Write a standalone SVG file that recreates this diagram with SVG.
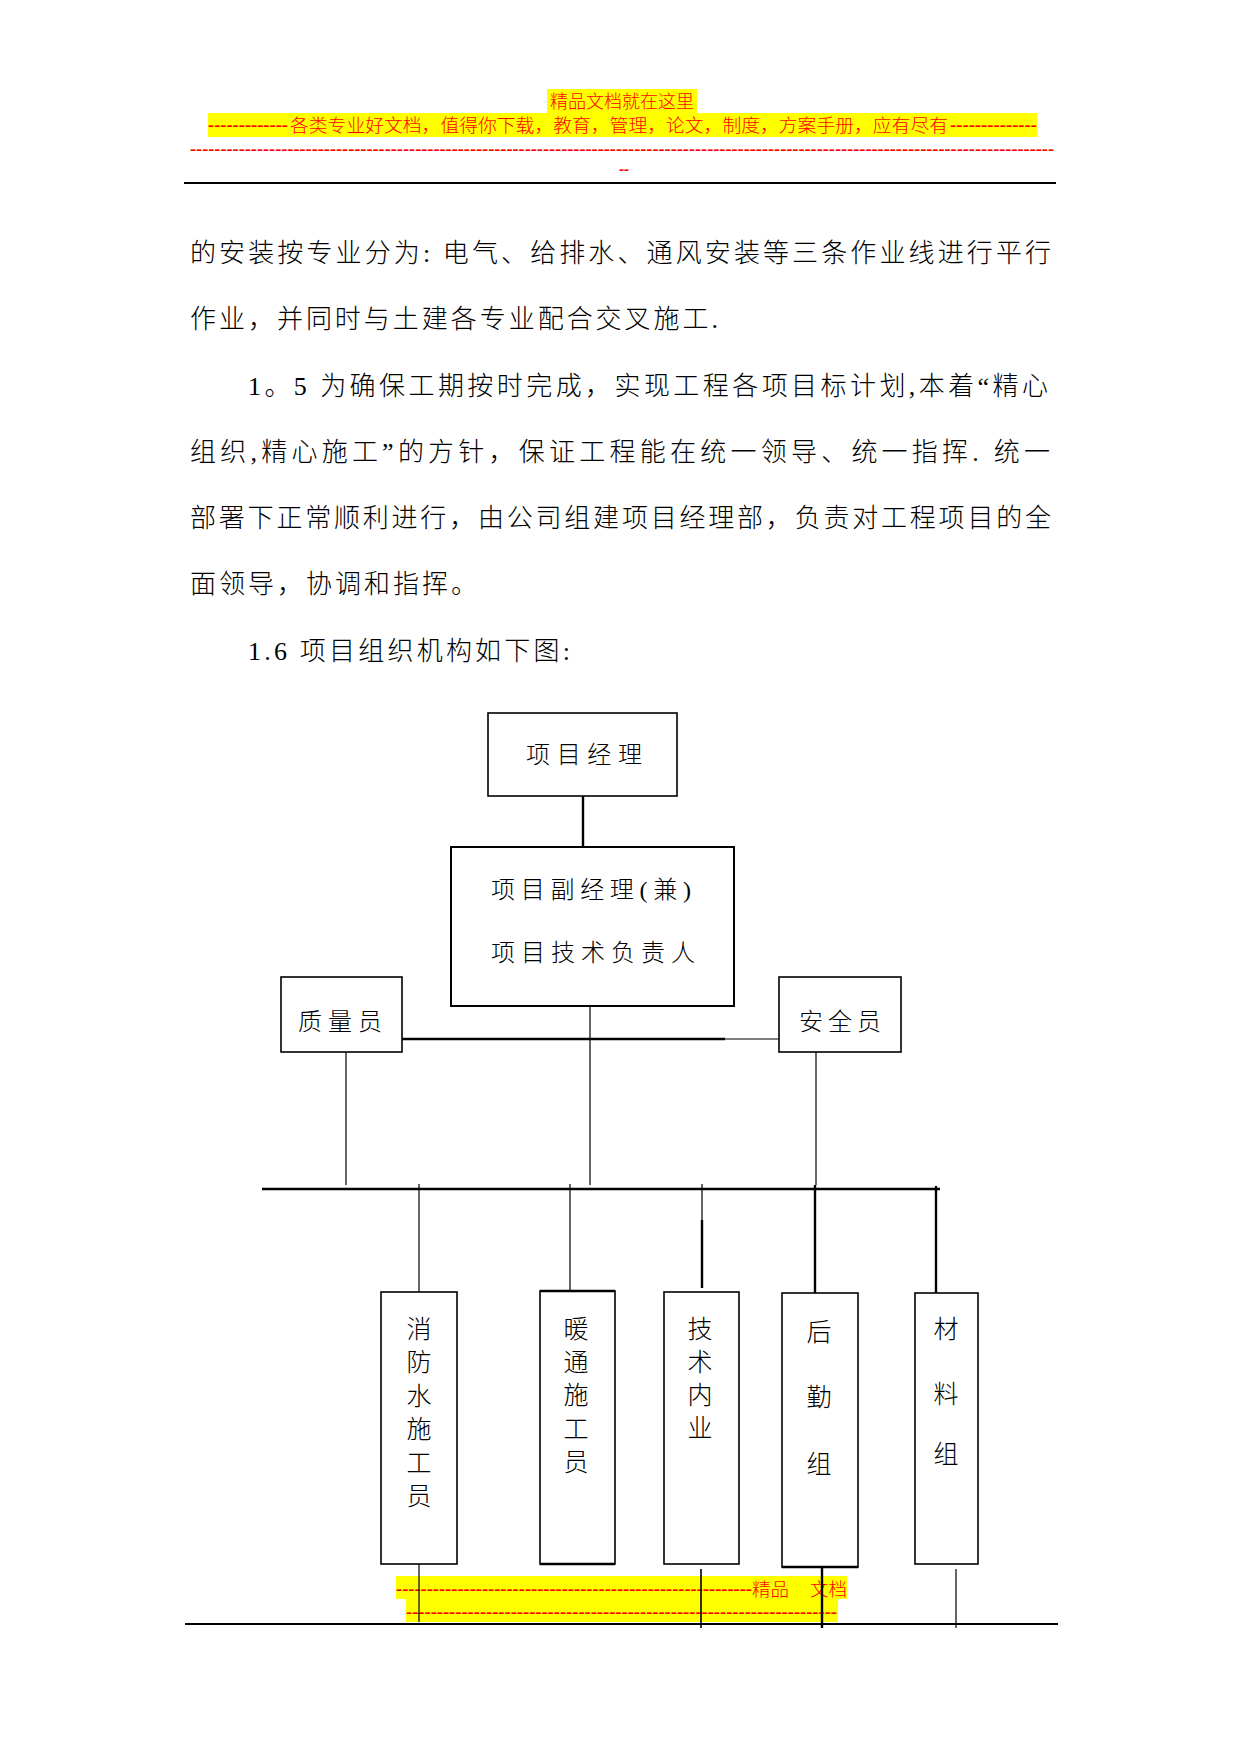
<svg xmlns="http://www.w3.org/2000/svg" width="1241" height="1754" viewBox="0 0 1241 1754">
<style>
.hl{fill:#FFFF00}
.red{fill:#FF0000;font-family:"Liberation Serif","Noto Sans CJK SC",serif;font-size:18px;font-weight:300}
.dash{fill:#FF0000;font-family:"Liberation Serif",serif;font-size:18px;font-weight:bold}
.body{fill:#000;font-family:"Liberation Serif","Noto Sans CJK SC",serif;font-size:26px;font-weight:300}
.lbl{fill:#000;font-family:"Liberation Serif","Noto Sans CJK SC",serif;font-size:24px;font-weight:300}
.vl{fill:#000;font-family:"Noto Sans CJK SC",sans-serif;font-size:25px;font-weight:300;text-anchor:middle}
.box{fill:#fff;stroke:#000;stroke-width:1.6}
.thin{stroke:#000;stroke-width:1.2;fill:none}
.thick{stroke:#000;stroke-width:2.4;fill:none}
.rule{stroke:#000;stroke-width:2;fill:none}
</style>
<rect width="1241" height="1754" fill="#fff"/>

<!-- header -->
<g id="header">
<rect class="hl" x="547" y="89" width="150" height="24"/>
<text class="red" x="550" y="108" textLength="144" lengthAdjust="spacingAndGlyphs">精品文档就在这里</text>
<rect class="hl" x="208" y="113" width="829" height="24"/>
<text class="dash" x="208" y="131" textLength="80" lengthAdjust="spacingAndGlyphs">-------------</text>
<text class="red" x="290" y="132" textLength="658" lengthAdjust="spacingAndGlyphs">各类专业好文档，值得你下载，教育，管理，论文，制度，方案手册，应有尽有</text>
<text class="dash" x="950" y="131" textLength="87" lengthAdjust="spacingAndGlyphs">--------------</text>
<text class="dash" x="190" y="155" textLength="864" lengthAdjust="spacingAndGlyphs">----------------------------------------------------------------------------------------------------------------------------------------------</text>
<text class="dash" x="619" y="175" textLength="10" lengthAdjust="spacingAndGlyphs">--</text>
<line class="rule" x1="184" y1="183" x2="1056" y2="183"/>
</g>

<!-- body text -->
<g id="body">
<text class="body" x="190" y="262" textLength="861" lengthAdjust="spacing">的安装按专业分为: 电气、给排水、通风安装等三条作业线进行平行</text>
<text class="body" x="190" y="328" textLength="528" lengthAdjust="spacing">作业，并同时与土建各专业配合交叉施工.</text>
<text class="body" x="248" y="395" textLength="800" lengthAdjust="spacing">1。5 为确保工期按时完成，实现工程各项目标计划,本着“精心</text>
<text class="body" x="190" y="461" textLength="860" lengthAdjust="spacing">组织,精心施工”的方针，保证工程能在统一领导、统一指挥. 统一</text>
<text class="body" x="190" y="527" textLength="861" lengthAdjust="spacing">部署下正常顺利进行，由公司组建项目经理部，负责对工程项目的全</text>
<text class="body" x="190" y="593" textLength="287" lengthAdjust="spacing">面领导，协调和指挥。</text>
<text class="body" x="248" y="660" textLength="322" lengthAdjust="spacing">1.6 项目组织机构如下图:</text>
</g>

<!-- footer highlight -->
<g id="footer">
<rect class="hl" x="396" y="1576" width="451" height="23"/>
<rect class="hl" x="406" y="1599" width="432" height="23"/>
<text class="dash" x="396" y="1595" textLength="356" lengthAdjust="spacingAndGlyphs">----------------------------------------------------------</text>
<text class="red" x="752" y="1596" textLength="37" lengthAdjust="spacingAndGlyphs">精品</text>
<text class="red" x="810" y="1596" textLength="37" lengthAdjust="spacingAndGlyphs">文档</text>
<text class="dash" x="406" y="1618" textLength="431" lengthAdjust="spacingAndGlyphs">----------------------------------------------------------------------</text>
<line class="rule" x1="185" y1="1624" x2="1058" y2="1624"/>
</g>

<!-- connectors -->
<g id="connectors">
<line class="thick" x1="583" y1="796" x2="583" y2="847"/>
<line class="thin" x1="590" y1="1006" x2="590" y2="1185"/>
<line class="thick" x1="402" y1="1039" x2="725" y2="1039"/>
<line class="thin" x1="725" y1="1039" x2="779" y2="1039"/>
<line class="thin" x1="346" y1="1052" x2="346" y2="1185"/>
<line class="thin" x1="816" y1="1052" x2="816" y2="1185"/>
<line class="thick" x1="262" y1="1189" x2="940" y2="1189"/>
<line class="thin" x1="419" y1="1184" x2="419" y2="1293"/>
<line class="thin" x1="570" y1="1184" x2="570" y2="1292"/>
<line class="thin" x1="702" y1="1184" x2="702" y2="1220"/>
<line class="thick" x1="702" y1="1220" x2="702" y2="1288"/>
<line class="thick" x1="815" y1="1185" x2="815" y2="1294"/>
<line class="thick" x1="936" y1="1186" x2="936" y2="1295"/>
<line class="thin" x1="419" y1="1564" x2="419" y2="1622"/>
<line class="thin" x1="701" y1="1569" x2="701" y2="1628" style="stroke-width:1.6"/>
<line class="thick" x1="822" y1="1567" x2="822" y2="1628"/>
<line class="thin" x1="956" y1="1569" x2="956" y2="1628"/>
</g>

<!-- nodes -->
<g id="node-manager">
<rect class="box" x="488" y="713" width="189" height="83"/>
<text class="lbl" x="526" y="763" textLength="116" lengthAdjust="spacing">项目经理</text>
</g>
<g id="node-deputy">
<rect class="box" x="451" y="847" width="283" height="159" style="stroke-width:2"/>
<text class="lbl" x="491" y="898" textLength="200" lengthAdjust="spacing">项目副经理(兼)</text>
<text class="lbl" x="491" y="961" textLength="204" lengthAdjust="spacing">项目技术负责人</text>
</g>
<g id="node-quality">
<rect class="box" x="281" y="977" width="121" height="75"/>
<text class="lbl" x="298" y="1030" textLength="84" lengthAdjust="spacing">质量员</text>
</g>
<g id="node-safety">
<rect class="box" x="779" y="977" width="122" height="75"/>
<text class="lbl" x="799" y="1030" textLength="82" lengthAdjust="spacing">安全员</text>
</g>
<g id="node-fire">
<rect class="box" x="381" y="1292" width="76" height="272"/>
<text class="vl" x="419" y="1338">消</text>
<text class="vl" x="419" y="1371">防</text>
<text class="vl" x="419" y="1405">水</text>
<text class="vl" x="419" y="1438">施</text>
<text class="vl" x="419" y="1472">工</text>
<text class="vl" x="419" y="1505">员</text>
</g>
<g id="node-hvac">
<rect class="box" x="540" y="1291" width="75" height="273"/>
<line class="thick" x1="540" y1="1564" x2="615" y2="1564"/>
<line class="thick" x1="540" y1="1291" x2="615" y2="1291"/>
<text class="vl" x="576" y="1338">暖</text>
<text class="vl" x="576" y="1371">通</text>
<text class="vl" x="576" y="1404">施</text>
<text class="vl" x="576" y="1438">工</text>
<text class="vl" x="576" y="1471">员</text>
</g>
<g id="node-tech">
<rect class="box" x="664" y="1292" width="75" height="272"/>
<text class="vl" x="700" y="1338">技</text>
<text class="vl" x="700" y="1371">术</text>
<text class="vl" x="700" y="1404">内</text>
<text class="vl" x="700" y="1437">业</text>
</g>
<g id="node-logistics">
<rect class="box" x="782" y="1293" width="76" height="274"/>
<line class="thick" x1="782" y1="1567" x2="858" y2="1567"/>
<text class="vl" x="819" y="1341">后</text>
<text class="vl" x="819" y="1406">勤</text>
<text class="vl" x="819" y="1473">组</text>
</g>
<g id="node-material">
<rect class="box" x="915" y="1293" width="63" height="271"/>
<text class="vl" x="946" y="1338">材</text>
<text class="vl" x="946" y="1403">料</text>
<text class="vl" x="946" y="1463">组</text>
</g>
</svg>
